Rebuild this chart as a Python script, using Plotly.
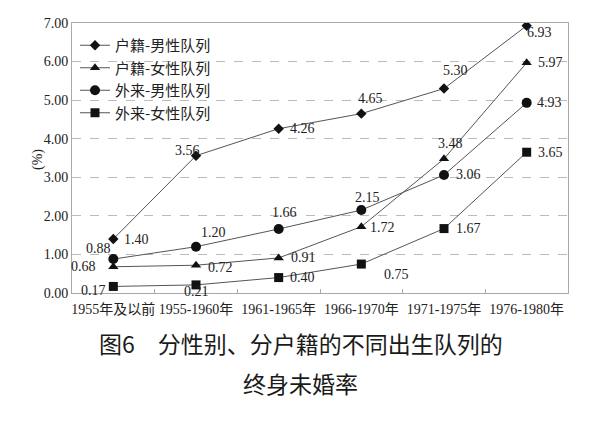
import plotly.graph_objects as go

categories = ["1955年及以前", "1955-1960年", "1961-1965年", "1966-1970年", "1971-1975年", "1976-1980年"]
series_names = ["户籍-男性队列", "户籍-女性队列", "外来-男性队列", "外来-女性队列"]
hj_male = [1.40, 3.56, 4.26, 4.65, 5.30, 6.93]
hj_female = [0.68, 0.72, 0.91, 1.72, 3.48, 5.97]
wl_male = [0.88, 1.20, 1.66, 2.15, 3.06, 4.93]
wl_female = [0.17, 0.21, 0.40, 0.75, 1.67, 3.65]
y_ticks = [0, 1, 2, 3, 4, 5, 6, 7]
caption_line1 = "图6　分性别、分户籍的不同出生队列的"
caption_line2 = "终身未婚率"

series = [hj_male, hj_female, wl_male, wl_female]
symbols = ["diamond", "triangle-up", "circle", "square"]
msizes = [8, 9, 10, 9]
# label offsets in pixels (xshift, yshift) per series per point
offsets = [
    [(23, 0), (-9, 5), (24, 0), (9, 15), (11, 18), (13, -7)],
    [(-30, 0), (24, -2), (25, 0), (21, -1), (6, 15), (24, 0)],
    [(-15, 11), (17, 14), (6, 16), (6, 13), (24, 0), (23, 0)],
    [(-20, -4), (0, -7), (24, 0), (35, -10), (24, 0), (24, 0)],
]

# page body has an 8px margin; figure is sized so that it fills the window
OFF = 8
W, H = 600 - OFF, 421 - OFF
L, R, T, B = 72 - OFF, 32, 23 - OFF, 128
plot_w = W - L - R
plot_h = H - T - B

def paper_x(px):
    return (px - OFF - L) / plot_w

def paper_y(py):
    return (H - B - (py - OFF)) / plot_h

serif = "Liberation Serif, Times New Roman, Noto Sans CJK SC, serif"
fig = go.Figure()
for name, vals, sym, ms in zip(series_names, series, symbols, msizes):
    fig.add_trace(go.Scatter(
        x=categories, y=vals, name=name, mode="lines+markers",
        line=dict(color="#555555", width=1),
        marker=dict(symbol=sym, size=ms, color="#111111"),
    ))

annotations = []
for vals, offs in zip(series, offsets):
    for c, v, (dx, dy) in zip(categories, vals, offs):
        annotations.append(dict(
            x=c, y=v, xref="x", yref="y", text=f"{v:.2f}", showarrow=False,
            xshift=dx, yshift=dy, font=dict(family=serif, size=14, color="#222222"),
        ))

annotations.append(dict(
    x=paper_x(28), y=paper_y(160), xref="paper", yref="paper", text="(%)", showarrow=False,
    textangle=-90, font=dict(family=serif, size=14, color="#222222"),
))
annotations.append(dict(
    x=paper_x(301), y=paper_y(362), xref="paper", yref="paper", text=caption_line1, showarrow=False,
    font=dict(family="Noto Sans CJK SC", size=23, color="#1a1a1a"),
))
annotations.append(dict(
    x=paper_x(300), y=paper_y(402), xref="paper", yref="paper", text=caption_line2, showarrow=False,
    font=dict(family="Noto Sans CJK SC", size=23, color="#1a1a1a"),
))

fig.update_layout(
    width=W, height=H,
    margin=dict(l=L, r=R, t=T, b=B, autoexpand=False),
    paper_bgcolor="white", plot_bgcolor="white",
    showlegend=True,
    legend=dict(
        x=paper_x(75), y=paper_y(29), xanchor="left", yanchor="top",
        bgcolor="rgba(0,0,0,0)", font=dict(family="Noto Sans CJK SC", size=15, color="#222222"),
        itemwidth=30, tracegroupgap=0,
    ),
    annotations=annotations,
)
fig.update_xaxes(
    type="category", range=[-0.5, 5.5], automargin=False, tickangle=0,
    showline=True, linecolor="#aaaaaa", linewidth=1, mirror=True,
    showgrid=False, ticks="inside", ticklen=4, tickcolor="#aaaaaa", tickson="boundaries",
    ticklabelstandoff=3,
    tickfont=dict(family=serif, size=14, color="#222222"),
)
fig.update_yaxes(
    range=[0, 7], tickvals=y_ticks, tickformat=".2f", automargin=False,
    showline=True, linecolor="#aaaaaa", linewidth=1, mirror=True,
    showgrid=True, gridcolor="#bbbbbb", griddash="dash", gridwidth=1,
    zeroline=False, ticks="",
    tickfont=dict(family=serif, size=14, color="#222222"),
)

fig.write_html("out.html")
